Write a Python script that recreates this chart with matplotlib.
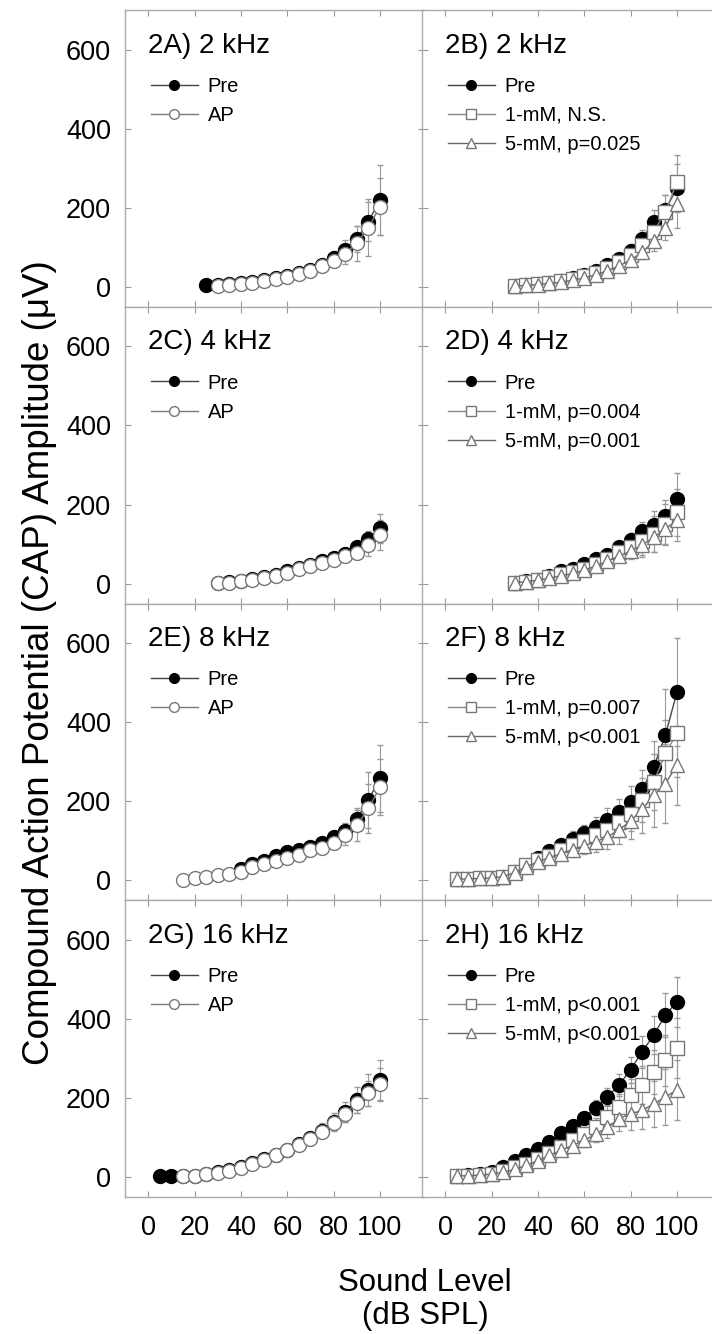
import matplotlib

matplotlib.use("Agg")

import matplotlib.pyplot as plt
from matplotlib.lines import Line2D

plt.rcParams["font.family"] = ["Liberation Sans", "DejaVu Sans"]

# sound levels (dB SPL)
LEVELS_5 = [5, 10, 15, 20, 25, 30, 35, 40, 45, 50, 55, 60, 65, 70, 75, 80, 85, 90, 95, 100]
LEVELS_15 = LEVELS_5[2:]
LEVELS_25 = LEVELS_5[4:]
LEVELS_30 = LEVELS_5[5:]
LEVELS_40 = LEVELS_5[7:]

# 2A) 2 kHz, Pre vs AP
pre_2a = [5, 5, 8, 10, 13, 18, 23, 28, 35, 43, 56, 73, 94, 121, 165, 220]
pre_2a_err = [2, 2, 3, 3, 4, 5, 6, 7, 9, 11, 14, 18, 24, 32, 50, 88]
ap_2a = [3, 6, 8, 11, 15, 20, 26, 33, 41, 52, 66, 84, 110, 150, 203]
ap_2a_err = [2, 2, 3, 3, 4, 5, 6, 8, 10, 12, 16, 25, 45, 72, 72]

# 2B) 2 kHz, Pre vs 1-mM / 5-mM
pre_2b = [3, 5, 8, 11, 16, 22, 30, 40, 55, 70, 92, 122, 165, 195, 250]
pre_2b_err = [2, 2, 3, 3, 4, 5, 6, 8, 10, 13, 16, 22, 30, 38, 60]
mm1_2b = [3, 5, 7, 10, 14, 20, 27, 36, 48, 62, 80, 105, 140, 190, 265]
mm1_2b_err = [2, 2, 3, 3, 4, 5, 6, 8, 10, 12, 16, 22, 30, 42, 68]
mm5_2b = [2, 4, 6, 9, 12, 17, 23, 31, 41, 53, 68, 88, 115, 150, 210]
mm5_2b_err = [2, 2, 2, 3, 4, 5, 6, 7, 9, 11, 14, 18, 24, 32, 60]

# 2C) 4 kHz
pre_2c = [2, 4, 7, 11, 17, 22, 32, 40, 48, 57, 66, 76, 92, 112, 140]
pre_2c_err = [1, 2, 2, 3, 3, 4, 5, 5, 6, 7, 8, 12, 15, 22, 37]
ap_2c = [2, 3, 6, 10, 15, 20, 28, 36, 44, 52, 61, 70, 78, 97, 122]
ap_2c_err = [1, 2, 2, 3, 3, 4, 4, 5, 6, 7, 8, 12, 15, 28, 38]

# 2D) 4 kHz
pre_2d = [3, 6, 10, 20, 31, 38, 50, 63, 73, 92, 111, 132, 149, 172, 213]
pre_2d_err = [2, 2, 3, 4, 5, 6, 8, 10, 12, 14, 17, 25, 35, 40, 68]
mm1_2d = [3, 5, 10, 17, 24, 30, 38, 50, 63, 79, 92, 107, 126, 151, 180]
mm1_2d_err = [2, 2, 3, 4, 5, 6, 7, 9, 11, 15, 22, 35, 45, 50, 60]
mm5_2d = [3, 5, 9, 14, 20, 26, 34, 45, 57, 70, 82, 98, 117, 139, 160]
mm5_2d_err = [2, 2, 3, 3, 4, 5, 6, 8, 10, 14, 20, 30, 38, 42, 51]

# 2E) 8 kHz
pre_2e = [30, 42, 50, 63, 72, 78, 84, 94, 109, 126, 156, 203, 258]
pre_2e_err = [5, 6, 7, 8, 9, 10, 11, 13, 16, 20, 28, 70, 84]
ap_2e = [2, 5, 10, 13, 16, 22, 34, 42, 50, 57, 64, 76, 83, 94, 114, 139, 182, 236]
ap_2e_err = [1, 2, 2, 3, 3, 4, 5, 6, 7, 8, 9, 10, 12, 15, 25, 38, 63, 70]

# 2F) 8 kHz
pre_2f = [3, 4, 5, 6, 8, 21, 34, 56, 74, 89, 106, 119, 135, 154, 172, 198, 230, 287, 367, 476]
pre_2f_err = [1, 1, 2, 2, 3, 5, 7, 10, 13, 16, 19, 22, 26, 30, 35, 42, 50, 65, 118, 136]
mm1_2f = [3, 4, 5, 6, 10, 21, 38, 51, 63, 76, 89, 101, 114, 127, 147, 169, 203, 249, 321, 372]
mm1_2f_err = [1, 1, 2, 2, 3, 5, 7, 10, 13, 16, 19, 22, 26, 30, 36, 44, 55, 70, 85, 110]
mm5_2f = [3, 4, 5, 6, 10, 20, 35, 47, 58, 68, 78, 88, 98, 110, 128, 150, 180, 215, 245, 291]
mm5_2f_err = [1, 1, 2, 2, 3, 5, 7, 9, 12, 15, 18, 21, 25, 30, 36, 45, 60, 80, 100, 100]

# 2G) 16 kHz
pre_2g = [3, 3, 2, 4, 7, 12, 18, 26, 35, 45, 57, 70, 85, 100, 118, 140, 165, 195, 220, 245]
pre_2g_err = [2, 2, 2, 2, 3, 4, 5, 6, 7, 8, 9, 11, 13, 15, 18, 22, 26, 32, 40, 52]
ap_2g = [2, 4, 7, 11, 16, 24, 33, 43, 55, 68, 82, 97, 115, 136, 160, 188, 212, 235]
ap_2g_err = [1, 2, 2, 3, 3, 4, 5, 6, 7, 8, 10, 12, 14, 17, 21, 26, 32, 40]

# 2H) 16 kHz
pre_2h = [3, 5, 8, 12, 25, 40, 56, 72, 88, 111, 129, 150, 176, 204, 233, 272, 317, 360, 410, 443]
pre_2h_err = [1, 2, 2, 3, 4, 5, 6, 7, 9, 11, 13, 15, 18, 22, 27, 33, 40, 48, 56, 63]
mm1_2h = [3, 4, 6, 8, 15, 25, 33, 46, 61, 76, 93, 109, 127, 152, 178, 207, 232, 266, 295, 327]
mm1_2h_err = [1, 2, 2, 3, 4, 5, 6, 8, 10, 12, 15, 18, 22, 27, 33, 40, 48, 56, 65, 75]
mm5_2h = [3, 4, 5, 8, 12, 20, 30, 42, 55, 68, 80, 93, 109, 126, 148, 160, 169, 185, 203, 220]
mm5_2h_err = [1, 2, 2, 3, 4, 5, 6, 8, 10, 12, 14, 17, 21, 26, 32, 40, 48, 58, 70, 75]

X_TICKS = [0, 20, 40, 60, 80, 100]
Y_TICKS = [0, 200, 400, 600]

# marker styles: (marker, face, edge, line)
STYLE_PRE = ("o", "black", "black", "#444444")
STYLE_AP = ("o", "white", "#777777", "#777777")
STYLE_1MM = ("s", "white", "#777777", "#888888")
STYLE_5MM = ("^", "white", "#777777", "#666666")

PANELS = [
    ("2A) 2 kHz", [(LEVELS_25, pre_2a, pre_2a_err, STYLE_PRE, "Pre"),
                   (LEVELS_30, ap_2a, ap_2a_err, STYLE_AP, "AP")]),
    ("2B) 2 kHz", [(LEVELS_30, pre_2b, pre_2b_err, STYLE_PRE, "Pre"),
                   (LEVELS_30, mm1_2b, mm1_2b_err, STYLE_1MM, "1-mM, N.S."),
                   (LEVELS_30, mm5_2b, mm5_2b_err, STYLE_5MM, "5-mM, p=0.025")]),
    ("2C) 4 kHz", [(LEVELS_30, pre_2c, pre_2c_err, STYLE_PRE, "Pre"),
                   (LEVELS_30, ap_2c, ap_2c_err, STYLE_AP, "AP")]),
    ("2D) 4 kHz", [(LEVELS_30, pre_2d, pre_2d_err, STYLE_PRE, "Pre"),
                   (LEVELS_30, mm1_2d, mm1_2d_err, STYLE_1MM, "1-mM, p=0.004"),
                   (LEVELS_30, mm5_2d, mm5_2d_err, STYLE_5MM, "5-mM, p=0.001")]),
    ("2E) 8 kHz", [(LEVELS_40, pre_2e, pre_2e_err, STYLE_PRE, "Pre"),
                   (LEVELS_15, ap_2e, ap_2e_err, STYLE_AP, "AP")]),
    ("2F) 8 kHz", [(LEVELS_5, pre_2f, pre_2f_err, STYLE_PRE, "Pre"),
                   (LEVELS_5, mm1_2f, mm1_2f_err, STYLE_1MM, "1-mM, p=0.007"),
                   (LEVELS_5, mm5_2f, mm5_2f_err, STYLE_5MM, "5-mM, p<0.001")]),
    ("2G) 16 kHz", [(LEVELS_5, pre_2g, pre_2g_err, STYLE_PRE, "Pre"),
                    (LEVELS_15, ap_2g, ap_2g_err, STYLE_AP, "AP")]),
    ("2H) 16 kHz", [(LEVELS_5, pre_2h, pre_2h_err, STYLE_PRE, "Pre"),
                    (LEVELS_5, mm1_2h, mm1_2h_err, STYLE_1MM, "1-mM, p<0.001"),
                    (LEVELS_5, mm5_2h, mm5_2h_err, STYLE_5MM, "5-mM, p<0.001")]),
]

FIG_W, FIG_H = 712, 1334
fig = plt.figure(figsize=(FIG_W / 100, FIG_H / 100), dpi=100)

col_left = [125, 422]
panel_w = 299
top = 10
row_h = 296.75

for idx, (title, series) in enumerate(PANELS):
    row, col = divmod(idx, 2)
    x0 = col_left[col]
    y_top = top + row * row_h
    ax = fig.add_axes([
        x0 / FIG_W,
        1 - (y_top + row_h) / FIG_H,
        panel_w / FIG_W,
        row_h / FIG_H,
    ])

    handles = []
    for levels, values, errors, style, label in series:
        marker, face, edge, line = style
        ax.errorbar(
            levels, values, yerr=errors,
            fmt="-", marker=marker, color=line, lw=1.0,
            mfc=face, mec=edge, ms=10, mew=1.0,
            ecolor="#999999", elinewidth=0.8, capsize=2, capthick=0.8,
        )
        handles.append(Line2D(
            [], [], color=line, lw=1.0, marker=marker,
            mfc=face, mec=edge, ms=7, mew=1.0, label=label,
        ))

    ax.set_xlim(-10, 119)
    ax.set_ylim(-50, 700)
    ax.set_xticks(X_TICKS)
    ax.set_yticks(Y_TICKS)
    ax.tick_params(
        direction="in", top=True, right=True, length=4,
        color="#999999", labelsize=19.5, width=0.8,
    )
    ax.tick_params(axis="y", pad=10)
    ax.tick_params(axis="x", pad=13)
    if col == 1:
        ax.tick_params(labelleft=False)
    if row < 3:
        ax.tick_params(labelbottom=False)
    for spine in ax.spines.values():
        spine.set_color("#aaaaaa")
        spine.set_linewidth(1.0)

    ax.text(0.077, 0.88, title, transform=ax.transAxes,
            fontsize=20, va="center", ha="left")
    ax.legend(
        handles=handles, loc="upper left", bbox_to_anchor=(0.088, 0.775),
        frameon=False, fontsize=14.5, handlelength=2.3, handletextpad=0.5,
        labelspacing=0.5, borderpad=0, borderaxespad=0,
    )

fig.text(0.055, 0.503, "Compound Action Potential (CAP) Amplitude (\u03bcV)",
         rotation=90, fontsize=26.5, ha="center", va="center")
fig.text(425 / FIG_W, 1 - 1283 / FIG_H, "Sound Level",
         fontsize=22.5, ha="center", va="center")
fig.text(425 / FIG_W, 1 - 1316 / FIG_H, "(dB SPL)",
         fontsize=22.5, ha="center", va="center")

fig.savefig("out.png", dpi=100)
plt.close(fig)
